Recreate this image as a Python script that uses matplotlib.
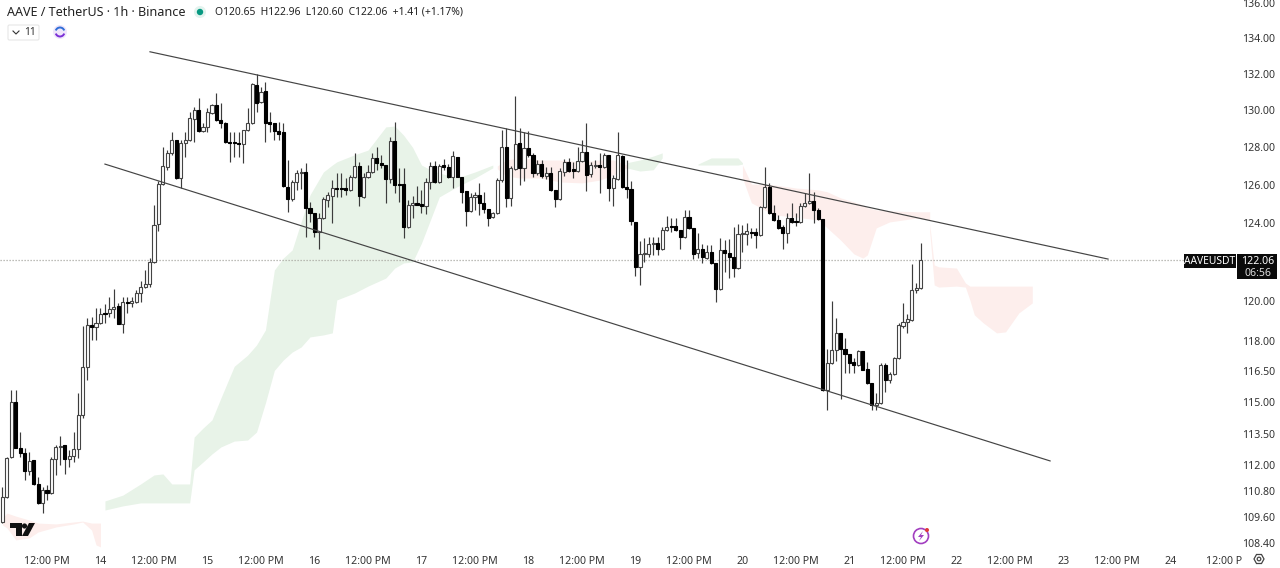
import numpy as np
import matplotlib
matplotlib.use('Agg')
import matplotlib.pyplot as plt
from matplotlib.patches import Circle, Polygon, Rectangle, FancyBboxPatch, Arc

plt.rcParams['font.family'] = ['Noto Sans', 'DejaVu Sans']

# hourly candles, hour 0 = 13th 12:00 PM
first_hour = -10
opens = [109.35,110.52,112.39,115.01,112.81,112.58,111.72,112.25,111.12,110.24,
         110.85,110.71,112.3,112.86,112.95,112.3,112.44,112.76,114.4,116.7,
         118.8,118.7,118.9,119.4,119.4,119.6,119.75,118.85,119.95,119.9,
         119.95,120.4,120.7,120.85,121.98,123.95,126.04,126.95,127.7,128.39,
         126.36,128.23,128.39,129.55,130.0,128.9,129.1,129.85,130.3,129.48,
         129.3,128.3,128.3,128.23,128.18,128.95,129.3,131.4,130.45,131.05,
         129.37,129.3,128.9,128.8,125.9,125.26,126.15,126.63,126.68,124.79,
         124.52,123.53,124.25,125.2,125.42,125.83,125.83,125.83,125.73,126.42,
         127.0,125.36,126.42,126.68,127.43,127.17,127.05,126.3,128.35,126.04,
         126.04,123.79,124.94,125.05,125.0,124.89,126.15,127.0,126.15,127.05,
         126.95,126.42,127.48,126.42,125.68,124.63,125.36,125.47,125.05,124.73,
         124.3,124.52,126.25,128.0,125.31,126.85,128.23,126.9,127.95,127.6,
         126.63,127.1,126.47,126.63,125.73,125.26,126.68,127.22,126.85,126.73,
         127.27,127.75,126.58,127.0,127.05,126.95,127.6,125.83,126.3,127.53,
         125.9,125.78,124.05,121.73,122.39,122.39,122.9,122.95,122.64,123.63,
         123.84,123.84,123.63,123.27,124.3,123.74,122.44,122.64,122.18,122.5,
         121.93,120.6,122.6,122.44,122.23,121.67,123.42,123.42,123.53,123.53,
         123.37,124.84,125.9,124.52,124.15,123.79,123.48,124.25,124.1,124.05,
         124.89,125.05,125.15,124.68,124.2,115.6,116.9,117.55,118.4,117.6,
         117.35,116.96,116.8,117.5,116.6,115.93,114.87,114.97,116.8,116.1,
         116.35,117.15,118.75,118.95,119.05,120.55,120.65]
highs = [111.0,112.39,115.6,115.6,113.57,112.81,112.62,112.25,111.45,111.0,
         111.08,112.39,112.95,113.38,112.95,112.72,113.57,115.45,118.75,119.15,
         119.2,119.65,119.65,119.85,120.2,120.6,119.9,120.2,120.2,120.2,
         120.55,121.0,121.57,122.18,124.94,126.2,128.0,127.85,128.85,128.39,
         128.39,128.85,129.9,130.2,130.7,129.3,130.15,130.35,130.95,130.4,
         129.37,128.85,128.85,128.85,128.95,130.15,131.5,132.0,131.3,131.55,
         129.9,129.3,129.37,129.3,127.32,126.25,126.8,126.9,127.17,125.1,
         124.52,124.52,125.36,125.63,126.25,126.63,126.63,126.36,126.52,127.7,
         127.22,126.63,127.05,127.7,128.0,127.6,127.05,128.55,129.37,126.9,
         126.9,125.2,125.42,125.94,125.73,126.36,127.22,127.27,127.1,127.37,
         127.1,127.8,127.48,126.42,125.68,125.57,125.63,126.1,125.63,124.73,
         124.58,126.36,128.95,129.05,127.0,130.8,129.05,128.85,128.9,127.7,
         127.32,127.32,126.95,126.95,125.73,126.9,127.37,127.43,127.22,128.0,
         128.39,129.3,127.22,127.32,127.7,127.7,127.6,126.52,128.8,127.6,
         127.32,126.2,124.05,123.06,123.21,123.27,123.27,123.27,123.79,124.37,
         124.25,124.25,123.63,124.68,124.68,123.74,123.48,122.9,122.85,122.85,
         121.93,123.21,123.11,123.16,123.79,123.95,123.9,124.0,123.74,123.74,
         124.89,126.95,126.1,124.94,124.42,123.9,124.52,125.05,124.52,125.05,
         125.57,126.63,125.63,124.79,124.2,117.6,120.0,119.15,118.4,118.15,
         117.35,117.15,117.55,117.5,116.96,115.93,115.45,116.9,116.9,116.45,
         117.2,118.9,119.9,119.35,121.88,120.9,122.96]
lows = [109.3,110.48,112.34,112.81,112.39,111.31,111.54,111.08,110.2,109.77,
        110.38,110.66,111.54,112.0,111.59,111.91,112.15,112.34,114.25,116.08,
        118.05,118.05,118.85,118.9,119.2,119.15,118.85,118.4,119.4,119.7,
        119.9,119.95,120.65,120.7,121.93,123.58,126.0,126.8,127.6,126.3,
        125.83,127.48,128.35,128.3,128.85,128.85,128.85,129.8,129.4,129.05,
        128.23,127.22,127.48,127.48,127.17,128.9,129.25,129.9,130.4,128.3,
        128.85,128.39,128.39,125.9,124.58,125.15,125.73,125.78,123.27,124.05,
        123.27,122.64,124.2,124.84,124.0,125.36,125.36,125.47,125.68,126.36,
        124.89,125.31,126.36,126.63,126.8,126.9,125.05,126.1,125.57,125.1,
        123.21,123.74,124.25,124.94,124.52,124.47,125.78,126.1,126.1,126.8,
        126.36,125.83,126.42,125.05,123.84,124.58,124.68,124.42,124.52,123.84,
        124.25,124.47,126.15,124.84,124.89,126.8,126.0,126.2,127.48,126.42,
        126.52,126.36,126.3,125.68,124.84,125.2,126.47,126.68,126.36,126.68,
        127.22,125.68,126.42,126.9,125.57,126.9,125.15,124.89,126.25,125.83,
        125.31,123.9,121.26,120.81,121.98,122.23,122.34,122.34,122.6,123.58,
        123.53,123.58,122.64,123.21,123.69,122.13,122.18,121.93,122.13,121.88,
        119.95,120.55,121.47,121.16,121.2,121.62,122.5,122.85,123.21,122.7,
        123.32,124.79,124.47,124.1,123.69,122.64,122.95,124.0,123.84,124.0,
        124.84,125.0,124.0,124.15,115.55,114.63,116.85,117.0,115.15,116.4,
        116.4,116.4,116.75,116.55,115.88,114.63,114.63,114.92,115.5,115.93,
        116.3,117.1,118.65,118.4,119.0,120.4,120.6]
closes = [110.52,112.34,115.01,112.81,112.58,111.72,112.2,111.12,110.24,110.85,
          110.71,112.3,112.86,112.9,112.3,112.44,112.76,114.4,116.7,118.8,
          118.7,118.9,119.35,119.35,119.6,119.7,118.85,119.95,119.9,120.0,
          120.4,120.7,120.85,121.98,123.9,126.04,127.0,127.7,128.39,126.36,
          128.23,128.39,129.6,130.0,128.9,129.1,129.9,130.3,129.5,129.3,
          128.3,128.23,128.23,128.18,128.95,129.3,131.45,130.4,131.0,129.3,
          129.25,128.9,128.7,125.94,125.26,126.15,126.63,126.68,124.79,124.52,
          123.53,124.25,125.26,125.47,125.83,125.8,125.78,125.73,126.42,127.0,
          125.42,126.42,126.68,127.43,127.17,127.05,126.3,128.35,126.0,126.0,
          123.79,124.94,125.05,124.94,124.89,126.15,127.0,126.15,127.0,126.95,
          126.42,127.53,126.42,125.63,124.63,125.36,125.47,125.05,124.73,124.25,
          124.52,126.25,128.0,125.31,126.9,128.18,126.9,127.95,127.6,126.63,
          127.1,126.47,126.63,125.73,125.26,126.73,127.22,126.73,126.73,127.27,
          127.75,126.52,127.05,127.05,126.95,127.6,125.83,126.36,127.6,125.9,
          125.78,124.1,121.73,122.39,122.44,122.9,122.95,122.64,123.63,123.79,
          123.79,123.63,123.27,124.3,123.74,122.39,122.64,122.23,122.5,121.93,
          120.6,122.6,122.44,122.23,121.67,123.42,123.48,123.58,123.48,123.37,
          124.84,125.9,124.52,124.15,123.74,123.48,124.25,124.05,124.05,124.89,
          125.05,125.15,124.68,124.2,115.6,116.9,117.55,118.4,117.6,117.35,
          116.9,116.8,117.5,116.55,115.93,114.87,114.97,116.8,116.1,116.35,
          117.15,118.8,118.95,119.1,120.55,120.65,122.06]

# cloud pieces: hours, upper edge, lower edge
green1_h = [13,17,21,24,26,28,32,33,35,37,39,42,45,47,49,51,53,55,57,59,62,64,65,69,72,76,78,80,82,84,86,88,92,96,100]
green1_top = [110.33,110.6,111.12,111.54,111.59,111.12,111.12,113.33,113.76,114.15,115.2,116.75,117.3,117.8,118.55,121.57,122.18,122.6,124.05,125.47,126.68,127.05,127.22,127.6,127.85,129.1,129.15,128.65,128.0,127.05,126.8,126.63,126.36,126.68,127.05]
green1_bot = [109.91,110.1,110.24,110.24,110.24,110.24,110.24,111.78,112.15,112.53,112.86,113.14,113.19,113.57,114.97,116.55,117.06,117.45,117.7,118.2,118.3,118.4,120.05,120.4,120.75,121.16,121.67,121.93,121.98,122.95,124.15,125.36,125.9,126.36,126.9]
green2_h = [130,133,136,138]
green2_top = [127.17,127.32,127.53,127.7]
green2_bot = [126.9,126.73,126.8,127.43]
green3_h = [146,149,155,156]
green3_top = [127.1,127.43,127.43,127.17]
green3_bot = [127.05,127.05,127.05,127.1]
red1_h = [-10,-9,-7,-4,-2,2,6,8,10,11,12]
red1_top = [109.54,109.77,109.63,109.45,109.31,109.27,109.36,109.4,109.31,109.31,109.31]
red1_bot = [109.22,109.09,108.54,108.63,108.9,109.13,109.27,109.36,108.99,108.31,108.22]
red2_h = [101,103,106,111,115,120,124,127,130]
red2_top = [127.0,127.32,127.43,127.32,127.32,127.22,127.32,127.32,127.05]
red2_bot = [126.85,126.47,126.36,126.36,126.15,126.1,126.25,126.52,126.9]
red3_h = [156,158,163,168,173,175,178,181,183,184,186,189,195,198]
red3_top = [127.05,126.04,126.0,125.83,125.73,125.63,125.31,125.1,124.94,124.79,124.68,124.63,124.58,124.58]
red3_bot = [126.36,125.05,124.42,124.3,124.15,123.74,123.11,122.39,122.18,122.34,123.74,124.05,124.25,124.15]
red4_h = [198,199,200,204,206,207,208,210,213,215,218,221]
red4_top = [123.95,121.83,121.73,121.67,120.91,120.75,120.75,120.75,120.75,120.75,120.75,120.75]
red4_bot = [123.53,120.81,120.7,120.75,120.7,120.05,119.3,118.9,118.4,118.45,119.4,119.9]

# channel lines
upper_h, upper_p = [23.1, 238.0], [133.24, 122.13]
lower_h, lower_p = [13.0, 225.0], [127.1, 112.2]

last_price = 122.06
price_ticks = [108.4,109.6,110.8,112,113.5,115,116.5,118,120,124,126,128,130,132,134,136]
noon_hours = list(range(0, 265, 24))
noon_labels = ['12:00 PM'] * 11 + ['12:00 P']
day_hours = list(range(12, 265, 24))
day_labels = ['14','15','16','17','18','19','20','21','22','23','24']
bold_days = ['16', '23']

fig = plt.figure(figsize=(12.8, 5.68), dpi=100)
ax = fig.add_axes([0, 18/568, 1232/1280, 550/568])
ax.set_yscale('log')
ax.set_xlim(-10.54, 265.8)
ax.set_ylim(108.08, 136.17)
for s in ax.spines.values():
    s.set_visible(False)

green = '#e8f3e8'
red = '#fdeeec'
for h, t, b, c in [(green1_h, green1_top, green1_bot, green), (green2_h, green2_top, green2_bot, green),
                   (green3_h, green3_top, green3_bot, green), (red1_h, red1_top, red1_bot, red),
                   (red2_h, red2_top, red2_bot, red), (red3_h, red3_top, red3_bot, red),
                   (red4_h, red4_top, red4_bot, red)]:
    ax.fill_between(h, b, t, color=c, lw=0, zorder=1)

ax.axhline(last_price, color='#a9a9a2', lw=0.9, ls=(0, (1, 1.4)), zorder=2)

hours = np.arange(first_hour, first_hour + len(closes))
o, h, l, c = map(np.array, (opens, highs, lows, closes))
up = c >= o
ax.vlines(hours, l, h, color='#3c3c3c', lw=0.85, zorder=3)
bot = np.minimum(o, c)
top = np.maximum(o, c)
ax.bar(hours[up], top[up] - bot[up], bottom=bot[up], width=0.7, color='white', edgecolor='#444444', lw=0.8, zorder=4)
ax.bar(hours[~up], top[~up] - bot[~up], bottom=bot[~up], width=0.7, color='black', edgecolor='black', lw=0.8, zorder=4)

ax.plot(upper_h, upper_p, color='#444444', lw=0.85, zorder=5)
ax.plot(lower_h, lower_p, color='#444444', lw=0.85, zorder=5)

ax.yaxis.tick_right()
ax.set_yticks(price_ticks)
ax.set_yticklabels(['%.2f' % p for p in price_ticks])
ax.minorticks_off()
ax.tick_params(axis='y', length=0, pad=7.5, labelsize=7.6, labelcolor='#333333')
ax.set_xticks(noon_hours + day_hours)
ax.set_xticklabels(noon_labels + day_labels)
ax.tick_params(axis='x', length=0, pad=4, labelsize=7.6, labelcolor='#333333')
for t in ax.get_xticklabels():
    if t.get_text() in bold_days:
        t.set_fontweight('bold')

# interface bits on a pixel overlay
ui = fig.add_axes([0, 0, 1, 1])
ui.set_xlim(0, 1280)
ui.set_ylim(568, 0)
ui.axis('off')
ui.patch.set_alpha(0)

ui.text(7, 12, 'AAVE / TetherUS · 1h · Binance', fontsize=9.05, color='#222222', va='center')
ui.add_patch(Circle((200, 12), 6, color='#e2f3ee', lw=0))
ui.add_patch(Circle((200, 12), 3.2, color='#089981', lw=0))
ui.text(215, 12, 'O120.65  H122.96  L120.60  C122.06  +1.41 (+1.17%)', fontsize=7.45, color='#222222', va='center')

ui.add_patch(FancyBboxPatch((8, 25), 31, 15, boxstyle='round,pad=0,rounding_size=1.5', fc='white', ec='#e6e6e6', lw=0.8))
ui.plot([13, 16, 19], [31, 34, 31], color='#333333', lw=0.8)
ui.text(24, 32.5, '11', fontsize=7.4, color='#333333', va='center')
ui.add_patch(Circle((60, 32), 7, color='#efe6fb', lw=0))
ui.add_patch(Arc((60, 32), 9, 9, theta1=20, theta2=160, color='#7b2fd6', lw=1.4))
ui.add_patch(Arc((60, 32), 9, 9, theta1=200, theta2=340, color='#2f6fd6', lw=1.4))

# price labels
ui.add_patch(Rectangle((1184, 254), 52, 14, fc='#0a0a0a', ec='none'))
ui.text(1210, 261, 'AAVEUSDT', color='white', fontsize=7.4, ha='center', va='center')
ui.add_patch(Rectangle((1237, 254), 40, 25, fc='#0a0a0a', ec='none'))
ui.text(1258, 261, '122.06', color='white', fontsize=7.6, ha='center', va='center')
ui.text(1258, 273, '06:56', color='#dddddd', fontsize=7.6, ha='center', va='center')

# logo
ui.add_patch(Polygon([(10, 523), (22, 523), (22, 536), (16, 536), (16, 528), (10, 528)], fc='#111111', ec='none'))
ui.add_patch(Circle((24.5, 526), 2.6, color='#111111', lw=0))
ui.add_patch(Polygon([(29, 523), (35, 523), (28, 536), (22, 536)], fc='#111111', ec='none'))

# bolt badge
ui.add_patch(Circle((921, 536), 7.5, fc='white', ec='#a23fc0', lw=1.2))
ui.add_patch(Polygon([(923, 531), (918, 537), (921, 537), (919, 541), (924, 535), (921, 535)], fc='#a23fc0', ec='none'))
ui.add_patch(Circle((927, 530), 2, color='#e03a3a', lw=0))

# settings
ui.add_patch(Polygon([(1254, 559), (1256.5, 554.5), (1261.5, 554.5), (1264, 559), (1261.5, 563.5), (1256.5, 563.5)], fc='none', ec='#444444', lw=0.9))
ui.add_patch(Circle((1259, 559), 1.8, fc='none', ec='#444444', lw=0.9))

fig.savefig('out.png', dpi=100)
